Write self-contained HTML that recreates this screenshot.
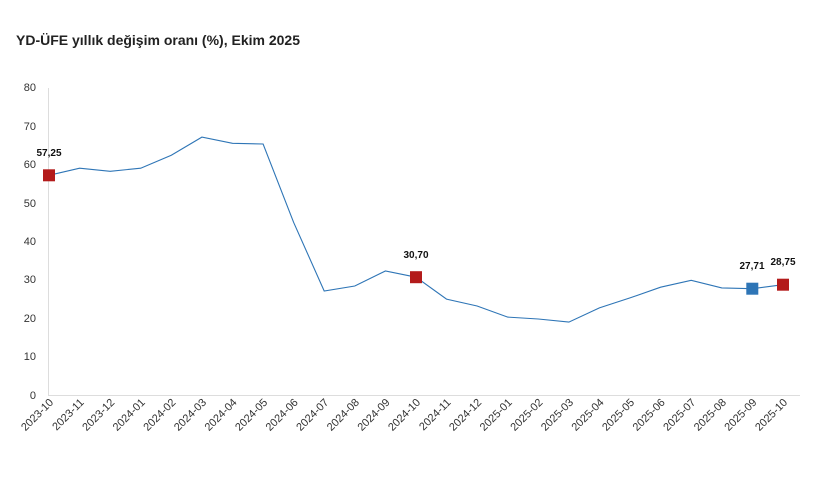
<!DOCTYPE html>
<html><head><meta charset="utf-8"><style>
html,body{margin:0;padding:0;background:#fff;}
svg{display:block;font-family:"Liberation Sans","DejaVu Sans",sans-serif;}
</style></head><body>
<svg width="826" height="489" viewBox="0 0 826 489" xmlns="http://www.w3.org/2000/svg">
<rect width="826" height="489" fill="#fff"/>
<text x="16" y="45" font-size="14" font-weight="bold" fill="#222">YD-ÜFE yıllık değişim oranı (%), Ekim 2025</text>
<g font-size="11" fill="#333" text-anchor="end">
<text x="36" y="91">80</text>
<text x="36" y="130">70</text>
<text x="36" y="168">60</text>
<text x="36" y="207">50</text>
<text x="36" y="245">40</text>
<text x="36" y="283">30</text>
<text x="36" y="322">20</text>
<text x="36" y="360">10</text>
<text x="36" y="399">0</text>
</g>
<line x1="48.5" y1="88" x2="48.5" y2="396" stroke="#ddd" stroke-width="1"/>
<line x1="48" y1="395.5" x2="800" y2="395.5" stroke="#ddd" stroke-width="1"/>
<polyline fill="none" stroke="#2e75b6" stroke-width="1.1" points="49,175.3 79.6,168.2 110.2,171.3 140.7,168.2 171.3,155.2 201.9,137.1 232.5,143.3 263.1,144 293.6,222.3 324.2,291 354.8,286 385.4,271 416,277.2 446.5,299.1 477.1,306 507.7,317.1 538.3,319 568.9,322.1 599.4,307.9 630,297.9 660.6,287.2 691.2,280.3 721.8,287.9 752.3,288.7 783,284.7"/>
<rect x="43" y="169.3" width="12" height="12" fill="#b31b1b"/>
<rect x="410" y="271.2" width="12" height="12" fill="#b31b1b"/>
<rect x="746.3" y="282.7" width="12" height="12" fill="#2e75b6"/>
<rect x="777" y="278.7" width="12" height="12" fill="#b31b1b"/>
<g font-size="10" font-weight="bold" fill="#111" text-anchor="middle">
<text x="49" y="156">57,25</text>
<text x="416" y="258">30,70</text>
<text x="752" y="269">27,71</text>
<text x="783" y="265">28,75</text>
</g>
<g font-size="11" fill="#333" text-anchor="end">
<text transform="translate(54,403) rotate(-45)">2023-10</text>
<text transform="translate(84.6,403) rotate(-45)">2023-11</text>
<text transform="translate(115.2,403) rotate(-45)">2023-12</text>
<text transform="translate(145.7,403) rotate(-45)">2024-01</text>
<text transform="translate(176.3,403) rotate(-45)">2024-02</text>
<text transform="translate(206.9,403) rotate(-45)">2024-03</text>
<text transform="translate(237.5,403) rotate(-45)">2024-04</text>
<text transform="translate(268.1,403) rotate(-45)">2024-05</text>
<text transform="translate(298.6,403) rotate(-45)">2024-06</text>
<text transform="translate(329.2,403) rotate(-45)">2024-07</text>
<text transform="translate(359.8,403) rotate(-45)">2024-08</text>
<text transform="translate(390.4,403) rotate(-45)">2024-09</text>
<text transform="translate(421,403) rotate(-45)">2024-10</text>
<text transform="translate(451.5,403) rotate(-45)">2024-11</text>
<text transform="translate(482.1,403) rotate(-45)">2024-12</text>
<text transform="translate(512.7,403) rotate(-45)">2025-01</text>
<text transform="translate(543.3,403) rotate(-45)">2025-02</text>
<text transform="translate(573.9,403) rotate(-45)">2025-03</text>
<text transform="translate(604.4,403) rotate(-45)">2025-04</text>
<text transform="translate(635,403) rotate(-45)">2025-05</text>
<text transform="translate(665.6,403) rotate(-45)">2025-06</text>
<text transform="translate(696.2,403) rotate(-45)">2025-07</text>
<text transform="translate(726.8,403) rotate(-45)">2025-08</text>
<text transform="translate(757.3,403) rotate(-45)">2025-09</text>
<text transform="translate(788,403) rotate(-45)">2025-10</text>
</g>
</svg>
</body></html>
